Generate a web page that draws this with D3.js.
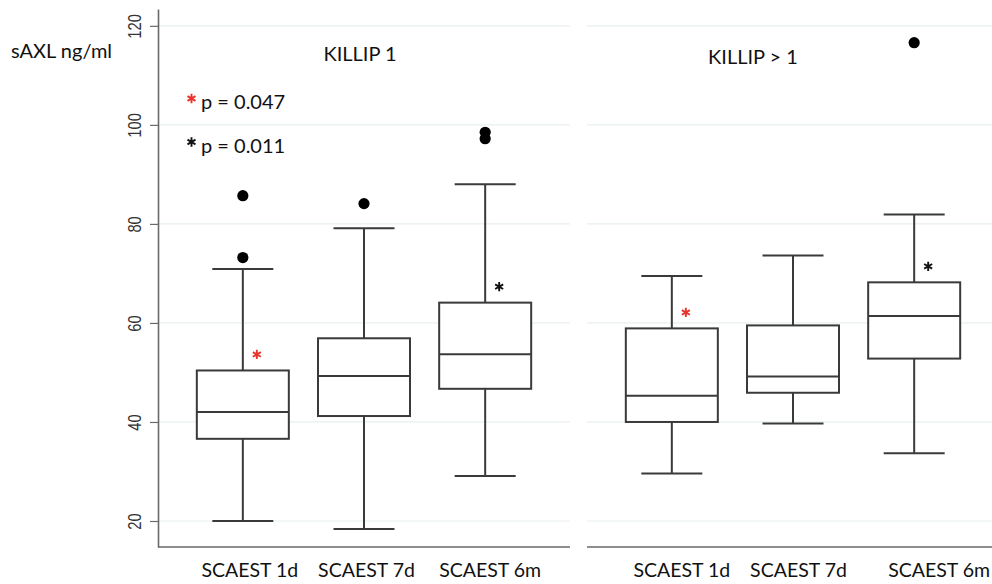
<!DOCTYPE html>
<html>
<head>
<meta charset="utf-8">
<script src="https://cdn.jsdelivr.net/npm/d3@7/dist/d3.min.js"></script>
<style>
  html, body { margin: 0; padding: 0; background: #fff; }
  svg { display: block; }
  .lbl { font-family: Lato, "Open Sans", sans-serif; fill: #111; }
</style>
</head>
<body>
<svg id="chart" width="992" height="584"></svg>
<script>
// Soluble AXL by time point, split by Killip class
const categories = ["SCAEST 1d", "SCAEST 7d", "SCAEST 6m"];
const panelTitles = ["KILLIP 1", "KILLIP > 1"];
const yTicks = [20, 40, 60, 80, 100, 120];
const yLabel = "sAXL ng/ml";
const pValueLabels = ["p = 0.047", "p = 0.011"];

// KILLIP 1
const killip1Min    = [20.0, 18.4, 29.1];
const killip1Q1     = [36.6, 41.2, 46.7];
const killip1Median = [42.0, 49.3, 53.7];
const killip1Q3     = [50.4, 56.9, 64.1];
const killip1Max    = [70.9, 79.1, 88.0];
const killip1Outliers = [[73.2, 85.7], [84.1], [97.2, 98.5]];
const killip1Stars  = [0, null, 1];   // index into pValueLabels

// KILLIP > 1
const killip2Min    = [29.6, 39.7, 33.7];
const killip2Q1     = [40.0, 45.9, 52.8];
const killip2Median = [45.3, 49.2, 61.4];
const killip2Q3     = [58.9, 59.5, 68.2];
const killip2Max    = [69.5, 73.6, 81.9];
const killip2Outliers = [[], [], [116.6]];
const killip2Stars  = [0, null, 1];

function buildPanel(title, mins, q1, med, q3, maxs, outs, stars) {
  return {
    title,
    boxes: categories.map((c, i) => ({
      cat: c, min: mins[i], q1: q1[i], median: med[i], q3: q3[i], max: maxs[i],
      outliers: outs[i], star: stars[i]
    }))
  };
}
const panels = [
  buildPanel(panelTitles[0], killip1Min, killip1Q1, killip1Median, killip1Q3, killip1Max, killip1Outliers, killip1Stars),
  buildPanel(panelTitles[1], killip2Min, killip2Q1, killip2Median, killip2Q3, killip2Max, killip2Outliers, killip2Stars)
];

// layout
const L = {
  panelX: [158, 587], panelW: 412, top: 9, bottom: 547,
  boxW: 92, capW: 61,
  titleDx: [202, 166], titleY: [61, 64],
  catLabelDx: [[7, 2.5, 5], [10, 5.5, 25]], catLabelY: 577,
  starDx: 14, starDy: -16,
  starColors: ["#e8322b", "#111"]
};

const svg = d3.select("#chart");
const y = d3.scaleLinear().domain([14.75, 123.4]).range([L.bottom, L.top]);
const x = d3.scalePoint().domain(categories).range([0, L.panelW]).padding(0.7);

const stroke = "#3a3a3a";
const star = d3.symbol(d3.symbolAsterisk, 60);

function drawStar(sel, color) {
  sel.append("path").attr("d", star)
    .attr("fill", "none").attr("stroke", color).attr("stroke-width", 1.9);
}

panels.forEach((p, pi) => {
  const g = svg.append("g").attr("transform", `translate(${L.panelX[pi]},0)`);

  // gridlines
  g.selectAll("line.grid").data(yTicks).join("line")
    .attr("class", "grid")
    .attr("x1", 0).attr("x2", L.panelW)
    .attr("y1", d => y(d)).attr("y2", d => y(d))
    .attr("stroke", "#e9f0f0").attr("stroke-width", 1.2);

  // baseline
  g.append("line")
    .attr("x1", 0).attr("x2", L.panelW)
    .attr("y1", L.bottom).attr("y2", L.bottom)
    .attr("stroke", "#6a6a6a").attr("stroke-width", 1.6);

  // title
  g.append("text").attr("class", "lbl")
    .attr("x", L.titleDx[pi]).attr("y", L.titleY[pi])
    .attr("text-anchor", "middle").attr("font-size", 20)
    .text(p.title);

  // category labels
  g.selectAll("text.cat").data(categories).join("text")
    .attr("class", "lbl cat")
    .attr("x", (d, i) => x(d) + L.catLabelDx[pi][i]).attr("y", L.catLabelY)
    .attr("text-anchor", "middle").attr("font-size", 19.5)
    .text(d => d);

  const b = g.selectAll("g.box").data(p.boxes).join("g")
    .attr("class", "box")
    .attr("transform", d => `translate(${x(d.cat)},0)`);

  // whiskers
  b.append("line").attr("x1", 0).attr("x2", 0)
    .attr("y1", d => y(d.max)).attr("y2", d => y(d.q3))
    .attr("stroke", stroke).attr("stroke-width", 2);
  b.append("line").attr("x1", 0).attr("x2", 0)
    .attr("y1", d => y(d.q1)).attr("y2", d => y(d.min))
    .attr("stroke", stroke).attr("stroke-width", 2);
  // caps
  b.append("line").attr("x1", -L.capW / 2).attr("x2", L.capW / 2)
    .attr("y1", d => y(d.max)).attr("y2", d => y(d.max))
    .attr("stroke", stroke).attr("stroke-width", 2);
  b.append("line").attr("x1", -L.capW / 2).attr("x2", L.capW / 2)
    .attr("y1", d => y(d.min)).attr("y2", d => y(d.min))
    .attr("stroke", stroke).attr("stroke-width", 2);
  // box
  b.append("rect")
    .attr("x", -L.boxW / 2).attr("width", L.boxW)
    .attr("y", d => y(d.q3)).attr("height", d => y(d.q1) - y(d.q3))
    .attr("fill", "#fff").attr("stroke", stroke).attr("stroke-width", 2);
  // median
  b.append("line").attr("x1", -L.boxW / 2).attr("x2", L.boxW / 2)
    .attr("y1", d => y(d.median)).attr("y2", d => y(d.median))
    .attr("stroke", stroke).attr("stroke-width", 2);
  // outliers
  b.selectAll("circle").data(d => d.outliers).join("circle")
    .attr("cx", 0).attr("cy", d => y(d)).attr("r", 5.6).attr("fill", "#000");
  // significance stars
  b.filter(d => d.star !== null).each(function (d) {
    const s = d3.select(this).append("g")
      .attr("transform", `translate(${L.starDx},${y(d.q3) + L.starDy})`);
    drawStar(s, L.starColors[d.star]);
  });
});

// y axis
const axis = d3.axisLeft(y).tickValues(yTicks).tickSize(8).tickSizeOuter(0);
const ag = svg.append("g").attr("transform", `translate(${L.panelX[0]},0)`).call(axis);
ag.select(".domain").attr("stroke", "#6a6a6a").attr("stroke-width", 1.6);
ag.selectAll(".tick line").attr("stroke", "#6a6a6a").attr("stroke-width", 1.2);
ag.selectAll(".tick text")
  .attr("x", null).attr("dy", null)
  .attr("transform", "translate(-17,0) rotate(-90) scale(0.82,1)")
  .attr("text-anchor", "middle")
  .attr("font-family", "'Liberation Sans', Arial, sans-serif")
  .attr("font-size", 18).attr("fill", "#333");

// axis title
svg.append("text").attr("class", "lbl")
  .attr("x", 11).attr("y", 58).attr("font-size", 20)
  .text(yLabel);

// p-value key
const key = svg.append("g");
pValueLabels.forEach((t, i) => {
  const yy = 109 + i * 43.5;
  drawStar(key.append("g").attr("transform", `translate(191.5,${yy - 10.5})`), L.starColors[i]);
  key.append("text").attr("class", "lbl")
    .attr("x", 201).attr("y", yy).attr("font-size", 20).text(t);
});
</script>
</body>
</html>
